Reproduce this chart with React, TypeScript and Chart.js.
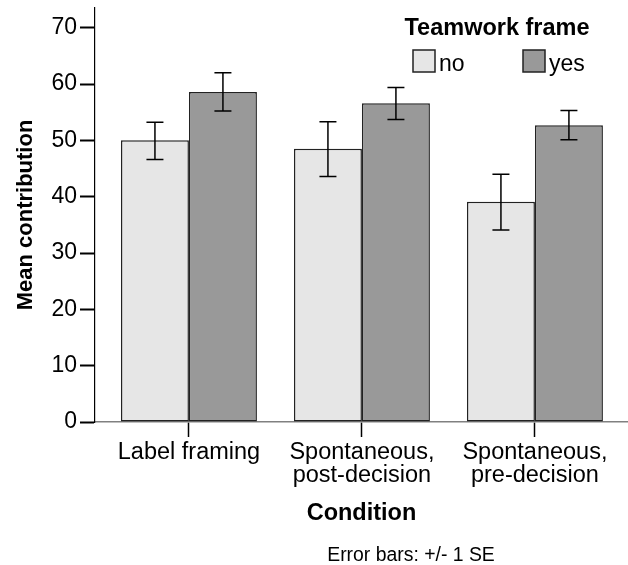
import React, { useEffect, useRef } from "react";
import { Chart, registerables } from "chart.js";

Chart.register(...registerables);

const categories = ["Label framing", "Spontaneous, post-decision", "Spontaneous, pre-decision"];
const tickLabels: string[][] = [["Label framing"], ["Spontaneous,", "post-decision"], ["Spontaneous,", "pre-decision"]];
const seriesNames = ["no", "yes"];
const noMeans = [50.0, 48.5, 39.1];
const yesMeans = [58.6, 56.6, 52.7];
const noLow = [46.6, 43.6, 34.1];
const noHigh = [53.2, 53.3, 44.0];
const yesLow = [55.2, 53.7, 50.1];
const yesHigh = [62.0, 59.4, 55.3];
const yTicks = [0, 10, 20, 30, 40, 50, 60, 70];

const FONT = "'Liberation Sans', Arial, sans-serif";

export default function App() {
  const ref = useRef<HTMLCanvasElement | null>(null);
  useEffect(() => {
    if (!ref.current) return;
    const errLow = [noLow, yesLow];
    const errHigh = [noHigh, yesHigh];

    const errorBars = {
      id: "errorBars",
      afterDatasetsDraw(chart: any) {
        const ctx = chart.ctx;
        const ys = chart.scales.y;
        ctx.save();
        ctx.strokeStyle = "#000";
        ctx.lineWidth = 1.5;
        chart.data.datasets.forEach((_: any, di: number) => {
          const meta = chart.getDatasetMeta(di);
          meta.data.forEach((bar: any, i: number) => {
            const x = bar.x;
            const y1 = ys.getPixelForValue(errLow[di][i]);
            const y2 = ys.getPixelForValue(errHigh[di][i]);
            const cap = 8.5;
            ctx.beginPath();
            ctx.moveTo(x, y1);
            ctx.lineTo(x, y2);
            ctx.moveTo(x - cap, y1);
            ctx.lineTo(x + cap, y1);
            ctx.moveTo(x - cap, y2);
            ctx.lineTo(x + cap, y2);
            ctx.stroke();
          });
        });
        ctx.restore();
      },
    };

    const legendAndNote = {
      id: "legendAndNote",
      afterDraw(chart: any) {
        const ctx = chart.ctx;
        ctx.save();
        ctx.fillStyle = "#000";
        ctx.textBaseline = "alphabetic";
        ctx.textAlign = "center";
        ctx.font = `bold 23.5px ${FONT}`;
        ctx.fillText("Teamwork frame", 497, 35);
        const boxX = [413, 523];
        chart.data.datasets.forEach((ds: any, di: number) => {
          ctx.fillStyle = ds.backgroundColor;
          ctx.fillRect(boxX[di], 50, 22, 22);
          ctx.strokeStyle = "#222";
          ctx.lineWidth = 1.5;
          ctx.strokeRect(boxX[di], 50, 22, 22);
          ctx.fillStyle = "#000";
          ctx.textAlign = "left";
          ctx.font = `23px ${FONT}`;
          ctx.fillText(ds.label, boxX[di] + 26, 71);
        });
        ctx.textAlign = "center";
        ctx.font = `19.4px ${FONT}`;
        ctx.fillText("Error bars: +/- 1 SE", 411, 561);
        ctx.restore();
      },
    };

    const chart = new Chart(ref.current, {
      type: "bar",
      data: {
        datasets: [
          {
            label: seriesNames[0],
            data: noMeans.map((v, i) => ({ x: i, y: v })),
            backgroundColor: "#e6e6e6",
            borderColor: "#222",
            borderWidth: 1.5,
            borderSkipped: false,
          },
          {
            label: seriesNames[1],
            data: yesMeans.map((v, i) => ({ x: i, y: v })),
            backgroundColor: "#999999",
            borderColor: "#222",
            borderWidth: 1.5,
            borderSkipped: false,
          },
        ],
      },
      options: {
        responsive: false,
        animation: false,
        categoryPercentage: 0.786,
        barPercentage: 1,
        layout: { padding: { top: 8, left: 0, right: 0, bottom: 0 } },
        plugins: {
          legend: { display: false },
          tooltip: { enabled: false },
        },
        scales: {
          x: {
            type: "linear",
            offset: false,
            min: -0.543,
            max: 2.538,
            afterBuildTicks: (scale: any) => {
              scale.ticks = categories.map((_, i) => ({ value: i }));
            },
            afterFit: (scale: any) => {
              scale.height = 143;
              scale.paddingLeft = 0;
              scale.paddingRight = 0;
            },
            ticks: {
              autoSkip: false,
              maxRotation: 0,
              padding: 4,
              color: "#000",
              font: { family: FONT, size: 23.5, lineHeight: 0.98 },
              callback: (v: any) => tickLabels[v as number],
            },
            grid: {
              offset: false,
              drawOnChartArea: false,
              drawTicks: true,
              tickLength: 15,
              tickColor: "#000",
              tickWidth: 1.5,
            },
            border: { display: true, color: "#808080", width: 1.5 },
            title: {
              display: true,
              text: "Condition",
              color: "#000",
              font: { family: FONT, size: 23.5, weight: "bold", lineHeight: 1 },
              padding: { top: 0, bottom: 40 },
            },
          },
          y: {
            type: "linear",
            min: 0,
            max: 73.5,
            afterBuildTicks: (scale: any) => {
              scale.ticks = yTicks.map((v) => ({ value: v }));
            },
            afterFit: (scale: any) => {
              scale.width = 95;
              scale.paddingTop = 0;
              scale.paddingBottom = 0;
            },
            ticks: {
              padding: 3,
              color: "#000",
              font: { family: FONT, size: 23, lineHeight: 1 },
            },
            grid: {
              drawOnChartArea: false,
              drawTicks: true,
              tickLength: 15,
              tickColor: "#000",
              tickWidth: 2,
            },
            border: { display: true, color: "#000", width: 1.2 },
            title: {
              display: true,
              text: "Mean contribution",
              color: "#000",
              font: { family: FONT, size: 22, weight: "bold", lineHeight: 1 },
              padding: { top: 15.4, bottom: 0 },
            },
          },
        },
      },
      plugins: [errorBars, legendAndNote],
    } as any);
    return () => chart.destroy();
  }, []);

  return (
    <canvas
      ref={ref}
      width={628}
      height={565}
      style={{ position: "absolute", left: 0, top: 0, width: 628, height: 565, background: "#fff" }}
    />
  );
}
